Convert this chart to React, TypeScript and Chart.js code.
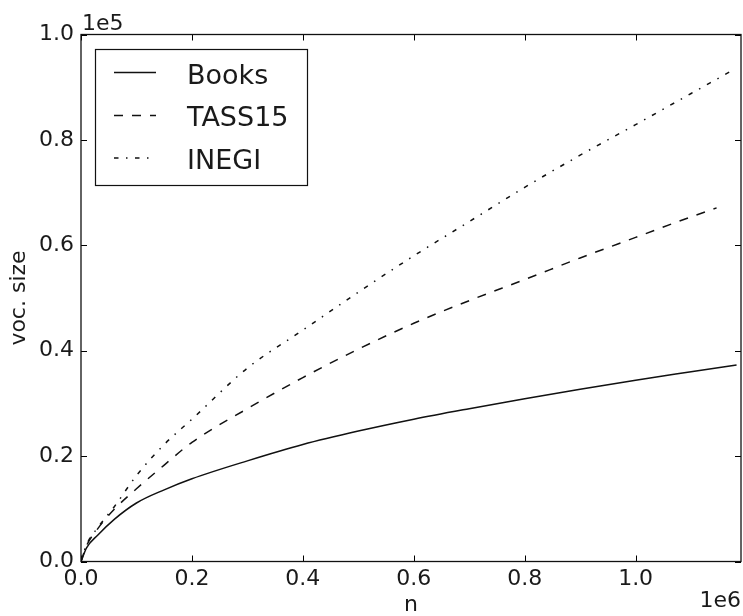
import React, { useEffect, useRef } from "react";
import { Chart, registerables } from "chart.js";

Chart.register(...registerables);

// ---- data (n = tokens, y = vocabulary size) ----
const booksN = [0, 10000, 30000, 60000, 100000, 150000, 200000, 300000, 400000, 500000, 600000, 700000, 800000, 900000, 1000000, 1100000, 1182000];
const booksV = [0, 2600, 5000, 8000, 11100, 13600, 15700, 19100, 22200, 24750, 27000, 29000, 30900, 32700, 34400, 36000, 37300];

const tassN = [0, 10000, 30000, 60000, 100000, 150000, 200000, 300000, 400000, 500000, 600000, 700000, 800000, 900000, 1000000, 1100000, 1146000];
const tassV = [0, 3000, 6200, 9900, 13800, 18300, 22600, 29000, 34900, 40300, 45200, 49500, 53500, 57600, 61500, 65400, 67100];

const inegiN = [0, 10000, 30000, 60000, 100000, 150000, 200000, 300000, 400000, 500000, 600000, 700000, 800000, 900000, 1000000, 1100000, 1178000];
const inegiV = [0, 3200, 6400, 10400, 16300, 22200, 27000, 36700, 43900, 51100, 58000, 64500, 71000, 77100, 82900, 88800, 93400];

const seriesNames = ["Books", "TASS15", "INEGI"];
const xTicks = [0, 200000, 400000, 600000, 800000, 1000000];
const yTicks = [0, 20000, 40000, 60000, 80000, 100000];
const xMax = 1190000;
const yMax = 100000;

const FONT = "'DejaVu Sans', sans-serif";
const INK = "#1a1a1a";

const decor = {
  id: "decor",
  afterDraw(chart: any) {
    const { ctx, chartArea, scales } = chart;
    const { left, right, top, bottom } = chartArea;
    const x = scales.x;
    const y = scales.y;
    ctx.save();
    ctx.strokeStyle = "#000";
    ctx.lineWidth = 1;
    const TL = 6;
    ctx.beginPath();
    xTicks.forEach((v) => {
      const px = Math.round(x.getPixelForValue(v)) + 0.5;
      ctx.moveTo(px, bottom);
      ctx.lineTo(px, bottom - TL);
      ctx.moveTo(px, top);
      ctx.lineTo(px, top + TL);
    });
    yTicks.forEach((v) => {
      const py = Math.round(y.getPixelForValue(v)) + 0.5;
      ctx.moveTo(left, py);
      ctx.lineTo(left + TL, py);
      ctx.moveTo(right, py);
      ctx.lineTo(right - TL, py);
    });
    ctx.stroke();
    ctx.lineWidth = 1.3;
    ctx.strokeStyle = "#111";
    ctx.strokeRect(left, top, right - left, bottom - top);

    // legend
    ctx.lineWidth = 1.2;
    ctx.strokeStyle = "#111";
    ctx.fillStyle = "#fff";
    ctx.fillRect(95.5, 49.5, 212, 136);
    ctx.strokeRect(95.5, 49.5, 212, 136);
    const rowsLine = [72.5, 115.5, 158];
    const rowsText = [83.5, 126, 168.5];
    chart.data.datasets.forEach((ds: any, i: number) => {
      ctx.save();
      ctx.strokeStyle = "#111";
      ctx.lineWidth = 1.5;
      ctx.setLineDash(ds.borderDash || []);
      ctx.beginPath();
      ctx.moveTo(114, rowsLine[i]);
      ctx.lineTo(156, rowsLine[i]);
      ctx.stroke();
      ctx.restore();
      ctx.fillStyle = INK;
      ctx.font = `27px ${FONT}`;
      ctx.textAlign = "left";
      ctx.textBaseline = "alphabetic";
      ctx.fillText(ds.label, 187, rowsText[i]);
    });

    // axis texts
    ctx.fillStyle = INK;
    ctx.font = `22px ${FONT}`;
    ctx.textBaseline = "alphabetic";
    ctx.textAlign = "center";
    ctx.fillText("n", (left + right) / 2, 611);
    ctx.textAlign = "right";
    ctx.fillText("1e6", 741, 607);
    ctx.textAlign = "left";
    ctx.fillText("1e5", 82, 30);
    ctx.save();
    ctx.translate(25, (top + bottom) / 2);
    ctx.rotate(-Math.PI / 2);
    ctx.textAlign = "center";
    ctx.fillText("voc. size", 0, 0);
    ctx.restore();
    ctx.restore();
  },
};

export default function App() {
  const ref = useRef<HTMLCanvasElement | null>(null);
  useEffect(() => {
    document.body.style.margin = "0";
    const canvas = ref.current;
    if (!canvas) return;
    const mk = (ns: number[], vs: number[]) => ns.map((n, i) => ({ x: n, y: vs[i] }));
    const chart = new Chart(canvas, {
      type: "line",
      data: {
        datasets: [
          { label: seriesNames[0], data: mk(booksN, booksV), borderColor: "#111", borderWidth: 1.5, borderDash: [], pointRadius: 0, cubicInterpolationMode: "monotone", fill: false },
          { label: seriesNames[1], data: mk(tassN, tassV), borderColor: "#111", borderWidth: 1.5, borderDash: [9, 9], pointRadius: 0, cubicInterpolationMode: "monotone", fill: false },
          { label: seriesNames[2], data: mk(inegiN, inegiV), borderColor: "#111", borderWidth: 1.5, borderDash: [4.5, 7.5, 1.5, 7.5], pointRadius: 0, cubicInterpolationMode: "monotone", fill: false },
        ],
      },
      options: {
        animation: false,
        responsive: false,
        devicePixelRatio: 1,
        layout: { padding: { top: 34.5, right: 2, left: 0, bottom: 0 } },
        plugins: { legend: { display: false }, tooltip: { enabled: false } },
        scales: {
          x: {
            type: "linear",
            min: 0,
            max: xMax,
            afterBuildTicks: (s: any) => {
              s.ticks = xTicks.map((v) => ({ value: v }));
            },
            afterFit: (s: any) => {
              s.height = 54.5;
            },
            grid: { display: false, drawTicks: false },
            border: { display: false },
            ticks: {
              callback: (v: any) => (Number(v) / 1e6).toFixed(1),
              font: { family: FONT, size: 22 },
              color: INK,
              padding: 5,
              maxRotation: 0,
              autoSkip: false,
            },
          },
          y: {
            type: "linear",
            min: 0,
            max: yMax,
            afterBuildTicks: (s: any) => {
              s.ticks = yTicks.map((v) => ({ value: v }));
            },
            afterFit: (s: any) => {
              s.width = 81;
            },
            grid: { display: false, drawTicks: false },
            border: { display: false },
            ticks: {
              callback: (v: any) => (Number(v) / 1e5).toFixed(1),
              font: { family: FONT, size: 22 },
              color: INK,
              padding: 7,
              autoSkip: false,
            },
          },
        },
      },
      plugins: [decor],
    } as any);
    return () => chart.destroy();
  }, []);
  return <canvas ref={ref} width={743} height={616} style={{ display: "block" }} />;
}
